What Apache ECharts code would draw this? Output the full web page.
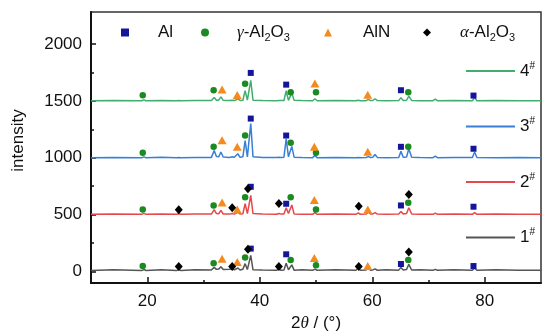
<!DOCTYPE html>
<html>
<head>
<meta charset="utf-8">
<script src="https://cdn.jsdelivr.net/npm/echarts@6/dist/echarts.min.js"></script>
<style>
html,body{margin:0;padding:0;background:#fff;}
#chart{width:543px;height:333px;}
</style>
</head>
<body>
<div id="chart"></div>
<script>
// ---- data ----
const twoTheta = [10,14,19.0,19.4,19.8,22.5,25.2,25.6,26.0,28.5,31.4,31.9,32.3,32.7,33.1,33.5,34.6,35.1,35.5,35.8,36.1,36.5,37.0,37.4,37.8,38.1,38.4,38.8,40.5,43.0,43.4,43.8,44.3,44.7,45.1,45.3,45.7,46.1,47.5,49.4,49.8,50.2,53.5,57.1,57.5,57.9,58.9,59.3,59.7,60.1,60.5,60.9,62.5,64.7,65.1,65.5,66.1,66.5,67.0,68.5,70.8,71.2,71.6,74.5,77.8,78.2,78.6,82,86,90];

const sample4 = [1500,1502,1500,1508,1500,1502,1500,1503,1500,1502,1502,1530,1505,1506,1535,1504,1502,1505,1502,1503,1516,1503,1505,1590,1506,1505,1680,1505,1502,1501,1503,1502,1503,1588,1504,1506,1570,1504,1502,1501,1518,1501,1502,1501,1504,1501,1501,1512,1502,1503,1518,1502,1501,1502,1528,1503,1505,1542,1503,1501,1501,1514,1501,1502,1501,1528,1501,1502,1501,1500];
const sample3 = [1000,1002,1000,1008,1000,1004,1001,1003,1001,1002,1003,1064,1010,1008,1050,1006,1003,1008,1004,1005,1035,1004,1008,1150,1008,1010,1300,1008,1003,1002,1004,1002,1005,1167,1008,1010,1100,1005,1002,1001,1020,1001,1002,1001,1003,1001,1002,1010,1002,1004,1029,1003,1001,1003,1056,1004,1006,1079,1004,1002,1001,1015,1001,1002,1002,1050,1002,1001,1002,1000];
const sample2 = [503,505,503,511,503,506,503,508,503,505,505,544,510,508,538,506,505,511,505,507,523,506,508,597,510,512,670,510,505,504,511,505,507,561,510,512,585,507,504,503,518,503,505,503,515,504,505,525,506,507,518,505,503,505,528,507,510,561,507,504,503,513,503,505,503,518,503,505,503,503];
const sample1 = [10,16,9,18,10,17,9,17,10,16,14,37,20,22,42,18,20,24,16,18,32,14,20,70,18,20,142,16,14,12,22,12,14,73,16,18,59,13,16,11,22,12,16,12,30,12,14,30,13,15,24,12,16,13,37,14,18,64,14,16,11,20,12,16,11,32,12,16,11,12];

const alMarks = [[38.4,1745],[44.7,1642],[65.1,1593],[78.0,1546],
                 [38.4,1344],[44.7,1195],[65.1,1096],[78.0,1079],
                 [38.4,745],[44.7,596],[65.1,581],[78.0,570],
                 [38.4,202],[44.7,152],[65.1,67],[78.0,49]];
const gammaMarks = [[19.2,1549],[31.8,1593],[37.4,1649],[45.5,1575],[50.0,1575],[66.4,1575],
                    [19.2,1044],[31.8,1096],[37.4,1195],[45.5,1131],[50.0,1044],[66.4,1096],
                    [19.2,546],[31.8,581],[37.4,652],[45.5,654],[50.0,546],[66.4,605],
                    [19.2,49],[31.8,73],[37.4,123],[45.5,102],[50.0,55],[66.4,102]];
const alnMarks = [[33.3,1599],[36.0,1552],[49.8,1651],[59.2,1553],
                  [33.3,1154],[36.0,1096],[49.7,1096],[59.2,1053],
                  [33.3,608],[36.0,546],[49.7,628],[59.2,546],
                  [33.3,114],[36.0,84],[49.7,119],[59.2,49]];
const alphaMarks = [[25.6,544],[35.1,561],[37.9,728],[43.4,599],[57.6,575],[66.5,678],
                    [25.6,44],[35.1,44],[37.9,196],[43.4,44],[57.6,44],[66.5,172]];

const yTickLabels = [0,500,1000,1500,2000];
const yMinorTicks = [250,750,1250,1750];
const xTickLabels = [20,40,60,80];
const xMinorTicks = [30,50,70];
const sampleNames = ['4#','3#','2#','1#'];
const phaseNames = ['Al','γ-Al2O3','AlN','α-Al2O3'];

// ---- chart ----
const FONT = 'Liberation Sans, Arial, sans-serif';
const chart = echarts.init(document.getElementById('chart'), null, {renderer:'canvas'});

function zip(xs, ys){ return xs.map((x,i)=>[x, ys[i]]); }

const lineColors = {'4#':'#3fae6e','3#':'#3a7fd6','2#':'#e8484b','1#':'#555555'};
const sampleData = {'4#':sample4,'3#':sample3,'2#':sample2,'1#':sample1};

const richBase = {
  n:{fontSize:17,fontFamily:FONT,color:'#111',lineHeight:22},
  g:{fontSize:17,fontFamily:'Liberation Serif, Times New Roman, serif',fontStyle:'italic',color:'#111',lineHeight:22},
  s:{fontSize:11,fontFamily:FONT,color:'#111',verticalAlign:'bottom',lineHeight:22}
};

const phaseLabel = {
  'Al':'{n|Al}',
  'γ-Al2O3':'{g|γ}{n|-Al}{s|2}{n|O}{s|3}',
  'AlN':'{n|AlN}',
  'α-Al2O3':'{g|α}{n|-Al}{s|2}{n|O}{s|3}'
};
const legendIconLeft = [116, 196, 319, 418];
const legendSpacer = [24, 23, 26, 24];

const legends = phaseNames.map((nm,i)=>({
  data:[nm], left: legendIconLeft[i], top: 19, orient:'horizontal',
  itemWidth:8, itemHeight:8, selectedMode:false,
  formatter: ()=> '{sp|}' + phaseLabel[nm],
  textStyle:{rich:Object.assign({}, richBase, {sp:{width:legendSpacer[i]}})}
}));
legends.push({
  data: sampleNames.map(nm=>({name:nm, icon:'rect'})), orient:'vertical', left:461, top:56, itemGap:37,
  itemWidth:49, itemHeight:2, selectedMode:false,
  formatter: nm => '{n|' + nm.charAt(0) + '}{sup|#}',
  textStyle:{rich:{
    n:{fontSize:17,fontFamily:FONT,color:'#111',lineHeight:20},
    sup:{fontSize:10,fontFamily:FONT,color:'#111',verticalAlign:'top',lineHeight:20}
  }}
});

const series = [];
sampleNames.forEach(nm=>{
  series.push({
    name:nm, type:'line', xAxisIndex:0, yAxisIndex:0,
    data: zip(twoTheta, sampleData[nm]),
    symbol:'none', showSymbol:false, smooth:false,
    lineStyle:{color:lineColors[nm], width:1.5},
    itemStyle:{color:lineColors[nm]},
    z:2, animation:false
  });
});
series.push({name:'Al', type:'scatter', data:alMarks, symbol:'rect', symbolSize:6,
  itemStyle:{color:'#15159b', opacity:1}, z:5, animation:false});
series.push({name:'γ-Al2O3', type:'scatter', data:gammaMarks, symbol:'circle', symbolSize:6.5,
  itemStyle:{color:'#1b8a22', opacity:1}, z:5, animation:false});
series.push({name:'AlN', type:'scatter', data:alnMarks, symbol:'triangle', symbolSize:[9,8],
  itemStyle:{color:'#f58a1f', opacity:1}, z:5, animation:false});
series.push({name:'α-Al2O3', type:'scatter', data:alphaMarks, symbol:'diamond', symbolSize:[8,9],
  itemStyle:{color:'#000', opacity:1}, z:6, animation:false});

const option = {
  animation:false,
  backgroundColor:'#fff',
  textStyle:{fontFamily:FONT},
  grid:{left:91, right:2, top:12, bottom:50, outerBoundsMode:'none', containLabel:false,
        show:true, borderColor:'#333', borderWidth:1.5, backgroundColor:'transparent'},
  legend: legends,
  xAxis:[{
    type:'value', min:10, max:90,
    name:'{a|2}{t|θ}{a| / (°)}', nameLocation:'middle', nameGap:30,
    nameTextStyle:{rich:{
      a:{fontSize:17,fontFamily:FONT,color:'#111'},
      t:{fontSize:17,fontFamily:'Liberation Serif, serif',fontStyle:'italic',color:'#111'}
    }},
    axisLine:{show:true, onZero:false, lineStyle:{color:'#111', width:2}},
    axisTick:{show:true, inside:true, length:6, customValues:xTickLabels, lineStyle:{color:'#111',width:1.5}},
    axisLabel:{customValues:xTickLabels, fontSize:17, color:'#111', margin:10, fontFamily:FONT, formatter: v => String(v)},
    splitLine:{show:false}
  },{
    type:'value', min:10, max:90, position:'bottom',
    axisLine:{show:false, onZero:false},
    axisTick:{show:true, inside:true, length:3, customValues:xMinorTicks, lineStyle:{color:'#111',width:1.5}},
    axisLabel:{show:false}, splitLine:{show:false}
  }],
  yAxis:[{
    type:'value', min:-100, max:2280,
    name:'intensity', nameLocation:'middle', nameGap:64, nameRotate:90,
    nameTextStyle:{fontSize:17, color:'#111', fontFamily:FONT, padding:[0,0,0,14]},
    axisLine:{show:true, onZero:false, lineStyle:{color:'#111', width:2}},
    axisTick:{show:true, inside:true, length:5, customValues:yTickLabels, lineStyle:{color:'#111',width:1.5}},
    axisLabel:{customValues:yTickLabels, fontSize:17, color:'#111', margin:9, fontFamily:FONT, formatter: v => String(v)},
    splitLine:{show:false}
  },{
    type:'value', min:-100, max:2280, position:'left',
    axisLine:{show:false, onZero:false},
    axisTick:{show:true, inside:true, length:3, customValues:yMinorTicks, lineStyle:{color:'#111',width:1.5}},
    axisLabel:{show:false}, splitLine:{show:false}
  }],
  series: series
};
chart.setOption(option);
</script>
</body>
</html>
